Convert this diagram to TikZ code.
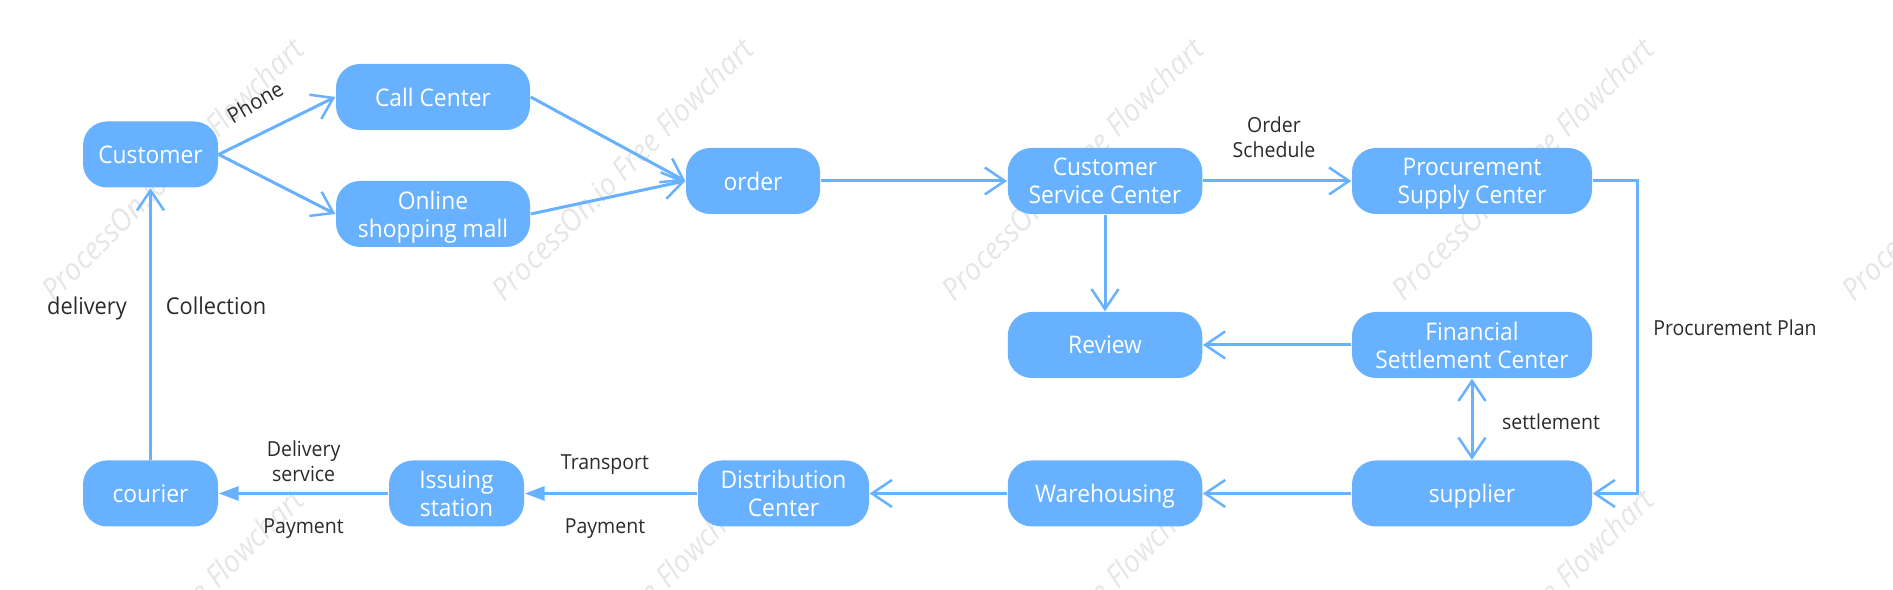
\documentclass[tikz,border=0pt]{standalone}
\usepackage{fontspec}
\setmainfont{Open Sans}[FakeStretch=0.94]
\usetikzlibrary{arrows.meta}
\definecolor{boxblue}{HTML}{67B1FF}
\definecolor{wmgray}{HTML}{E6E6E6}
\definecolor{labelgray}{HTML}{2B2B2B}
\tikzset{
  box/.style={fill=boxblue, rounded corners=0.24cm, inner sep=0pt, minimum height=0.66cm, text=white, text depth=0pt, align=center, font=\fontsize{6.9pt}{8pt}\selectfont},
  flow/.style={boxblue, line width=0.03cm, -{Straight Barb[length=0.2cm,width=0.27cm,line width=0.025cm]}},
  solidflow/.style={boxblue, line width=0.03cm, -{Triangle[length=0.2cm,width=0.14cm]}},
  lab/.style={text=labelgray, align=center, inner sep=0pt, text depth=0pt, font=\fontsize{5.9pt}{7pt}\selectfont},
  mark text/.style={text=wmgray, rotate=45, inner sep=0pt, font=\fontsize{8.67pt}{9pt}\selectfont\itshape}
}
\begin{document}
\begin{tikzpicture}
\useasboundingbox (0,0) rectangle (18.93,5.90);
\clip (0,0) rectangle (18.93,5.90);

%watermark, two rows
\foreach \wx in {1.72,6.22,10.72,15.22,19.72}
  \node[mark text] (WA\wx) at (\wx,4.21) {ProcessOn.io Free Flowchart};
\foreach \wx in {1.72,6.22,10.72,15.22}
  \node[mark text] (WB\wx) at (\wx,-0.30) {ProcessOn.io Free Flowchart};

%top rows
\node[box, minimum width=1.35cm] (Cust) at (1.505,4.355) {Customer};
\node[box, minimum width=1.94cm] (Call) at (4.33,4.93) {Call Center};
\node[box, minimum width=1.94cm] (Online) at (4.33,3.76) {Online\\shopping mall};
\node[box, minimum width=1.34cm] (Order) at (7.53,4.09) {order};
\node[box, minimum width=1.945cm] (Service) at (11.05,4.09) {Customer\\Service Center};
\node[box, minimum width=2.40cm] (Supply) at (14.72,4.09) {Procurement\\Supply Center};
\node[box, minimum width=1.945cm] (Review) at (11.05,2.45) {Review};
\node[box, minimum width=2.40cm] (Finance) at (14.72,2.45) {Financial\\Settlement Center};

%bottom row
\node[box, minimum width=2.40cm] (Supplier) at (14.72,0.965) {supplier};
\node[box, minimum width=1.945cm] (Ware) at (11.05,0.965) {Warehousing};
\node[box, minimum width=1.71cm] (Dist) at (7.835,0.965) {Distribution\\Center};
\node[box, minimum width=1.35cm] (Issue) at (4.565,0.965) {Issuing\\station};
\node[box, minimum width=1.35cm] (Courier) at (1.505,0.965) {courier};

%corners of the Procurement Plan line
\coordinate (P1) at (16.37,4.09);
\coordinate (P2) at (16.37,0.965);

%connections from Customer
\draw[flow] (Cust.east) -- (Call.west);
\draw[flow] (Cust.east) -- (Online.west);

%connections into order
\draw[flow] (Call.east) -- (Order.west);
\draw[flow] (Online.east) -- (Order.west);

\draw[flow] (Order.east) -- (Service.west);
\draw[flow] (Service.east) -- (Supply.west);
\draw[flow] (Service.south) -- (Review.north);
\draw[flow] (Finance.west) -- (Review.east);
\draw[flow, {Straight Barb[length=0.2cm,width=0.27cm,line width=0.025cm]}-{Straight Barb[length=0.2cm,width=0.27cm,line width=0.025cm]}] (Finance.south) -- (Supplier.north);
\draw[flow] (Supply.east) -- (P1) -- (P2) -- (Supplier.east);

%bottom row going back to Customer
\draw[flow] (Supplier.west) -- (Ware.east);
\draw[flow] (Ware.west) -- (Dist.east);
\draw[solidflow] (Dist.west) -- (Issue.east);
\draw[solidflow] (Issue.west) -- (Courier.east);
\draw[flow] (Courier.north) -- (Cust.south);

%labels
\node[lab, rotate=30, font=\fontsize{6.1pt}{7pt}\selectfont] (LPhone) at (2.55,4.88) {Phone};
\node[lab] (LOrder) at (12.74,4.53) {Order\\Schedule};
\node[lab] (LPlan) at (17.35,2.62) {Procurement Plan};
\node[lab] (LSettle) at (15.51,1.68) {settlement};
\node[lab, font=\fontsize{6.6pt}{8pt}\selectfont] (LDeliv) at (0.87,2.84) {delivery};
\node[lab, font=\fontsize{6.6pt}{8pt}\selectfont] (LColl) at (2.16,2.84) {Collection};
\node[lab] (LServ) at (3.036,1.29) {Delivery\\service};
\node[lab] (LPay) at (3.036,0.64) {Payment};
\node[lab] (LTrans) at (6.05,1.28) {Transport};
\node[lab] (LPayB) at (6.05,0.64) {Payment};
\end{tikzpicture}
\end{document}
